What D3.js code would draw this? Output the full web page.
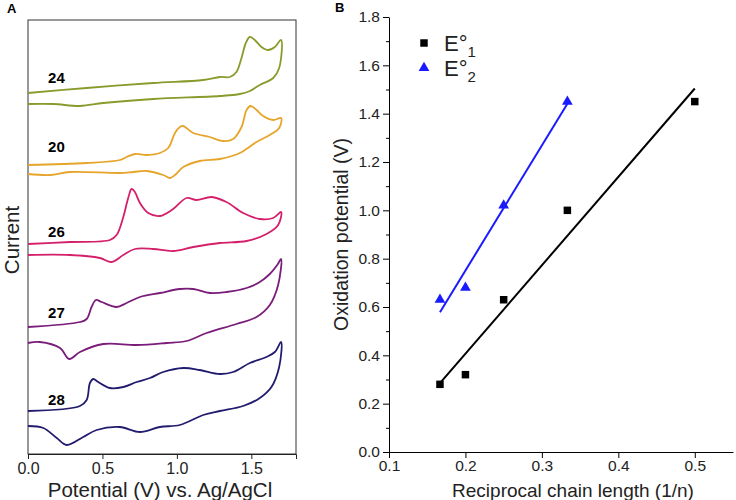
<!DOCTYPE html>
<html>
<head>
<meta charset="utf-8">
<script src="https://cdn.jsdelivr.net/npm/d3@7"></script>
<style>
  body { margin: 0; background: #fff; }
  svg { font-family: "Liberation Sans", Arial, sans-serif; }
</style>
</head>
<body>
<svg id="chart" width="736" height="500"></svg>
<script>
// ---- panel A: cyclic voltammograms (potential in V, current in a.u.) ----
const cvLabels = ["24", "20", "26", "27", "28"];
const cvColors = ["#8b9a2c", "#e6a52a", "#d4206a", "#7a1c7a", "#221c6e"];

const cv24E = [0, 0.394, 0.841, 1.177, 1.289, 1.356, 1.40, 1.434, 1.463, 1.49, 1.523, 1.568, 1.613, 1.658, 1.70,
  1.687, 1.647, 1.557, 1.49, 1.423, 1.289, 0.841, 0.506, 0.349, 0.17, 0];
const cv24I = [361, 366, 371, 374, 377, 377, 382, 396, 411, 417, 414, 407, 404, 407, 414,
  386, 376, 369, 363, 360, 358, 355, 351, 348, 350, 350];

const cv20E = [0, 0.394, 0.617, 0.662, 0.718, 0.797, 0.886, 0.942, 0.987, 1.02, 1.043, 1.11, 1.221, 1.311, 1.378,
  1.434, 1.468, 1.494, 1.535, 1.579, 1.647, 1.70,
  1.687, 1.624, 1.535, 1.423, 1.289, 1.154, 1.043, 0.987, 0.953, 0.908, 0.797, 0.707, 0.617, 0.282, 0.148, 0];
const cv20I = [289, 291, 294, 297, 300, 299, 301, 306, 321, 327, 328, 321, 317, 313, 315,
  327, 344, 348, 344, 338, 334, 336,
  326, 319, 312, 301, 295, 293, 287, 279, 276, 279, 283, 282, 281, 282, 279, 280];

const cv26E = [0, 0.282, 0.55, 0.595, 0.64, 0.673, 0.696, 0.718, 0.752, 0.808, 0.886, 0.975, 1.065, 1.132, 1.233,
  1.333, 1.445, 1.557, 1.647, 1.70,
  1.68, 1.602, 1.468, 1.289, 1.11, 0.975, 0.841, 0.718, 0.64, 0.562, 0.483, 0.282, 0];
const cv26I = [210, 212, 214, 219, 237, 256, 265, 262, 251, 241, 238, 245, 256, 254, 257,
  252, 241, 235, 236, 242,
  229, 220, 213, 211, 207, 203, 205, 205, 199, 192, 196, 199, 199];

const cv27E = [0, 0.349, 0.394, 0.427, 0.456, 0.494, 0.595, 0.662, 0.752, 0.886, 1.02, 1.11, 1.221, 1.333, 1.468,
  1.557, 1.624, 1.674, 1.70,
  1.68, 1.624, 1.535, 1.40, 1.199, 1.065, 0.931, 0.73, 0.506, 0.349, 0.277, 0.215, 0.08, 0];
const cv27I = [127, 132, 135, 147, 154, 152, 147, 151, 157, 161, 165, 165, 161, 162, 166,
  172, 180, 189, 195,
  169, 149, 137, 130, 121, 113, 111, 109, 110, 102, 95, 106, 112, 111];

const cv28E = [0, 0.349, 0.394, 0.416, 0.438, 0.472, 0.55, 0.64, 0.73, 0.819, 0.908, 1.043, 1.154, 1.289, 1.378,
  1.49, 1.602, 1.658, 1.70,
  1.687, 1.635, 1.557, 1.445, 1.289, 1.177, 1.02, 0.886, 0.752, 0.617, 0.461, 0.371, 0.26, 0.193, 0.103, 0];
const cv28I = [43, 48, 54, 71, 75, 72, 66, 67, 72, 76, 82, 86, 84, 80, 82,
  91, 97, 102, 112,
  87, 67, 56, 48, 43, 39, 29, 27, 22, 27, 24, 17, 9, 16, 26, 28];

const cvE = [cv24E, cv20E, cv26E, cv27E, cv28E];
const cvI = [cv24I, cv20I, cv26I, cv27I, cv28I];
// where each label sits (potential, current)
const cvLabelE = [0.135, 0.135, 0.135, 0.135, 0.135];
const cvLabelI = [371, 302, 217, 136, 49];
const potTicks = [0, 0.5, 1.0, 1.5];

// ---- panel B: oxidation potential vs reciprocal chain length ----
const recip1 = [1 / 6, 0.2, 0.25, 1 / 3, 0.5];
const e1 = [0.28, 0.32, 0.63, 1.0, 1.45];
const recip2 = [1 / 6, 0.2, 0.25, 1 / 3];
const e2 = [0.63, 0.68, 1.02, 1.45];
const xTicksB = [0.1, 0.2, 0.3, 0.4, 0.5];
const yTicksB = [0.0, 0.2, 0.4, 0.6, 0.8, 1.0, 1.2, 1.4, 1.6, 1.8];

const svg = d3.select("#chart");
const FONT = "Liberation Sans, Arial, sans-serif";

// ================= panel A =================
const a = { left: 28, top: 20, right: 296, bottom: 454 };
const xA = d3.scaleLinear().domain([0, 1.8]).range([a.left, a.right]);
const yA = d3.scaleLinear().domain([0, 434]).range([a.bottom, a.top]);

svg.append("rect")
  .attr("x", a.left).attr("y", a.top)
  .attr("width", a.right - a.left).attr("height", a.bottom - a.top)
  .attr("fill", "none").attr("stroke", "#333").attr("stroke-width", 1);

svg.append("g")
  .attr("transform", `translate(0,${a.bottom})`)
  .call(d3.axisBottom(xA).tickValues(potTicks).tickSize(5).tickFormat(d3.format(".1f")))
  .call(g => g.select(".domain").attr("stroke", "#222"))
  .call(g => g.selectAll("line").attr("stroke", "#222"))
  .call(g => g.selectAll("text").attr("font-size", 16).attr("fill", "#222")
    .attr("font-family", FONT).attr("dy", "0.75em"));

const cvLine = d3.line().curve(d3.curveCatmullRom.alpha(0.5));

cvE.forEach((es, k) => {
  const pts = es.map((e, i) => [xA(e), yA(cvI[k][i])]);
  svg.append("path")
    .attr("d", cvLine(pts))
    .attr("fill", "none")
    .attr("stroke", cvColors[k])
    .attr("stroke-width", 1.8);
  svg.append("text")
    .attr("x", xA(cvLabelE[k])).attr("y", yA(cvLabelI[k]))
    .attr("font-size", 15).attr("font-weight", "bold")
    .text(cvLabels[k]);
});

svg.append("text")
  .attr("x", (a.left + a.right) / 2 - 2).attr("y", 497)
  .attr("text-anchor", "middle").attr("font-size", 20.5).attr("fill", "#222")
  .text("Potential (V) vs. Ag/AgCl");

svg.append("text")
  .attr("transform", `translate(19,${(a.top + a.bottom) / 2 + 3}) rotate(-90)`)
  .attr("text-anchor", "middle").attr("font-size", 20.5).attr("fill", "#222")
  .text("Current");

svg.append("text")
  .attr("x", 7).attr("y", 13)
  .attr("font-size", 13).attr("font-weight", "bold")
  .text("A");

// ================= panel B =================
const b = { left: 389, top: 17, right: 733, bottom: 452 };
const xB = d3.scaleLinear().domain([0.1, 0.55]).range([b.left, b.right]);
const yB = d3.scaleLinear().domain([0, 1.8]).range([b.bottom, b.top]);

const yMinor = d3.range(0.1, 1.8, 0.2);
svg.append("g")
  .attr("transform", `translate(${b.left},0)`)
  .call(d3.axisLeft(yB).tickValues(yMinor).tickSize(3).tickFormat(""))
  .call(g => g.select(".domain").remove());

svg.append("g")
  .attr("transform", `translate(${b.left},0)`)
  .call(d3.axisLeft(yB).tickValues(yTicksB).tickSize(6).tickSizeOuter(0).tickFormat(d3.format(".1f")))
  .call(g => g.selectAll("text").attr("font-size", 15.5).attr("fill", "#222")
    .attr("font-family", FONT));

svg.append("g")
  .attr("transform", `translate(0,${b.bottom})`)
  .call(d3.axisBottom(xB).tickValues(xTicksB).tickSize(6).tickSizeOuter(0).tickFormat(d3.format(".1f")))
  .call(g => g.selectAll("text").attr("font-size", 15.5).attr("fill", "#222")
    .attr("font-family", FONT).attr("dy", "0.65em"));

// least-squares fit lines
function fit(xs, ys) {
  const mx = d3.mean(xs), my = d3.mean(ys);
  const sxy = d3.sum(xs, (x, i) => (x - mx) * (ys[i] - my));
  const sxx = d3.sum(xs, x => (x - mx) * (x - mx));
  const m = sxy / sxx;
  return x => my + m * (x - mx);
}
const f1 = fit(recip1, e1);
const f2 = fit(recip2, e2);
const ext1 = d3.extent(recip1), ext2 = d3.extent(recip2);

svg.append("line")
  .attr("x1", xB(ext1[0])).attr("y1", yB(f1(ext1[0])))
  .attr("x2", xB(ext1[1])).attr("y2", yB(f1(ext1[1])))
  .attr("stroke", "#000").attr("stroke-width", 2);
svg.append("line")
  .attr("x1", xB(ext2[0])).attr("y1", yB(f2(ext2[0])))
  .attr("x2", xB(ext2[1])).attr("y2", yB(f2(ext2[1])))
  .attr("stroke", "#1a1aff").attr("stroke-width", 2);

const sq = d3.symbol().type(d3.symbolSquare).size(56);
const tri = d3.symbol().type(d3.symbolTriangle).size(50);

svg.append("g").selectAll("path")
  .data(recip1).join("path")
  .attr("transform", (d, i) => `translate(${xB(d)},${yB(e1[i])})`)
  .attr("d", sq).attr("fill", "#000");

svg.append("g").selectAll("path")
  .data(recip2).join("path")
  .attr("transform", (d, i) => `translate(${xB(d)},${yB(e2[i])})`)
  .attr("d", tri).attr("fill", "#1a1aff");

// legend
const leg = svg.append("g");
leg.append("path").attr("transform", "translate(424,43)").attr("d", sq).attr("fill", "#000");
leg.append("path").attr("transform", "translate(424,68)").attr("d", tri).attr("fill", "#1a1aff");
[["1", 51], ["2", 76]].forEach(([s, y]) => {
  const t = leg.append("text").attr("x", 444).attr("y", y).attr("font-size", 22).attr("fill", "#222");
  t.append("tspan").text("E°");
  t.append("tspan").attr("font-size", 15).attr("dy", 6).text(s);
});

svg.append("text")
  .attr("x", (b.left + b.right) / 2 + 12).attr("y", 497)
  .attr("text-anchor", "middle").attr("font-size", 19).attr("fill", "#222")
  .text("Reciprocal chain length (1/n)");

svg.append("text")
  .attr("transform", `translate(348,${(b.top + b.bottom) / 2}) rotate(-90)`)
  .attr("text-anchor", "middle").attr("font-size", 19.5).attr("fill", "#222")
  .text("Oxidation potential (V)");

svg.append("text")
  .attr("x", 335).attr("y", 12)
  .attr("font-size", 13).attr("font-weight", "bold")
  .text("B");
</script>
</body>
</html>
